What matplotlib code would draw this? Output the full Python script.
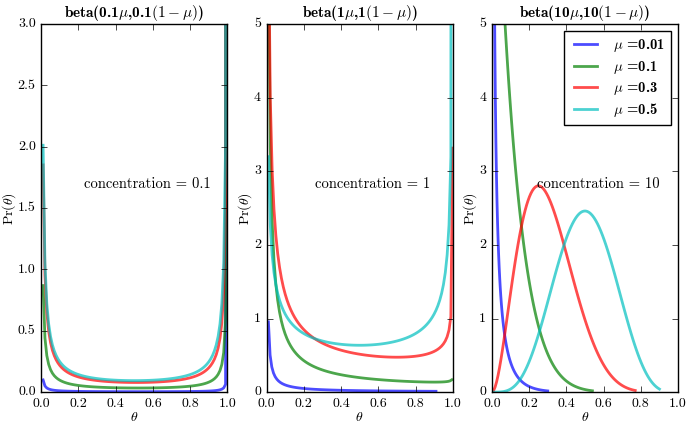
import math
import numpy as np
import matplotlib
matplotlib.use('Agg')
import matplotlib.pyplot as plt

plt.style.use('classic')
plt.rcParams['font.family'] = 'serif'
plt.rcParams['font.serif'] = ['cmr10']
plt.rcParams['mathtext.fontset'] = 'cm'
plt.rcParams['axes.unicode_minus'] = False
plt.rcParams['axes.formatter.use_mathtext'] = True
plt.rcParams['figure.facecolor'] = 'white'
plt.rcParams['savefig.facecolor'] = 'white'

# parameters of the beta curves
concentrations = [0.1, 1, 10]
concentration_labels = ['0.1', '1', '10']
mus = [0.01, 0.1, 0.3, 0.5]
mu_labels = ['0.01', '0.1', '0.3', '0.5']
colors = ['b', 'g', 'r', 'c']

# where each curve starts / stops on the theta axis
x_start = [0.01, 0.01, 0.01, 0.01]
x_end_c01 = [0.99999, 0.99999, 0.99999, 0.99999]
x_end_c1 = [0.91, 0.995, 0.9998, 0.99999]
x_end_c10 = [0.30, 0.54, 0.77, 0.90]
x_ends = [x_end_c01, x_end_c1, x_end_c10]

y_tops = [3.0, 5.0, 5.0]
y_steps = [0.5, 1.0, 1.0]


def beta_pdf(x, a, b):
    log_b = math.lgamma(a) + math.lgamma(b) - math.lgamma(a + b)
    return np.exp((a - 1) * np.log(x) + (b - 1) * np.log(1 - x) - log_b)


fig, axes = plt.subplots(1, 3, figsize=(6.87, 4.23), dpi=100)
fig.subplots_adjust(left=0.06, right=0.987, bottom=0.073, top=0.943, wspace=0.21)

for k, ax in enumerate(axes):
    c = concentrations[k]
    for i, mu in enumerate(mus):
        x = np.linspace(x_start[i], x_ends[k][i], 100)
        ax.plot(x, beta_pdf(x, c * mu, c * (1 - mu)), color=colors[i], lw=2, alpha=0.7,
                label=r'$\mu$ =' + mu_labels[i])
    ax.set_xlim(0, 1)
    ax.set_ylim(0, y_tops[k])
    ax.set_xticks(np.arange(0, 1.01, 0.2))
    ax.set_yticks(np.arange(0, y_tops[k] + 0.01, y_steps[k]))
    if k == 0:
        ax.set_yticklabels(['%.1f' % v for v in np.arange(0, 3.01, 0.5)])
    else:
        ax.set_yticklabels(['%d' % v for v in np.arange(0, 5.01, 1)])
    ax.set_xticklabels(['%.1f' % v for v in np.arange(0, 1.01, 0.2)])
    ax.tick_params(labelsize=10)
    ax.set_xlabel(r'$\theta$', fontsize=10, labelpad=1)
    ax.set_ylabel(r'$\Pr(\theta)$', fontsize=10, labelpad=0)
    cl = concentration_labels[k]
    ax.set_title('beta(' + cl + r'$\mu$,' + cl + r'$(1-\mu)$)', fontsize=11,
                 family='cmb10')
    ax.text(0.57, 0.565, 'concentration = ' + cl, transform=ax.transAxes,
            ha='center', va='center', fontsize=10.5)

axes[2].legend(loc='upper right', prop={'family': 'cmb10', 'size': 10.5},
               handlelength=2.2, borderpad=0.4, labelspacing=0.3)

fig.savefig('out.png', dpi=100)
